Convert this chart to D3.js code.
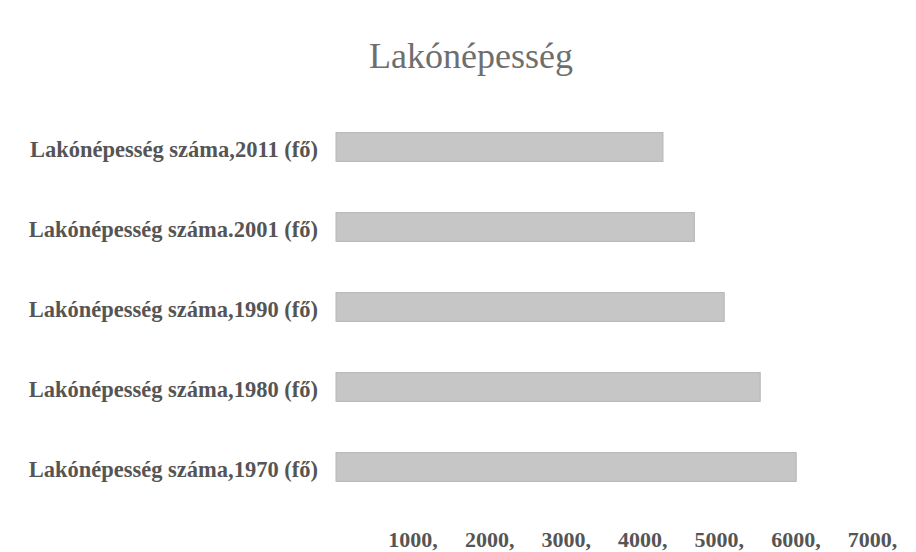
<!DOCTYPE html>
<html>
<head>
<meta charset="utf-8">
<script src="https://cdn.jsdelivr.net/npm/d3@7"></script>
<style>
  body { margin: 0; background: #fff; }
  .axis path, .axis line { display: none; }
</style>
</head>
<body>
<div id="chart"></div>
<script>
// chart data
var categories = [
    "Lakónépesség száma,2011 (fő)",
    "Lakónépesség száma.2001 (fő)",
    "Lakónépesség száma,1990 (fő)",
    "Lakónépesség száma,1980 (fő)",
    "Lakónépesség száma,1970 (fő)"
];
var values = [4270, 4680, 5070, 5540, 6010];
var tickValues = [1000, 2000, 3000, 4000, 5000, 6000, 7000];
var title = "Lakónépesség";

function init()
{
    var w = 916;
    var h = 552;

    var svg = d3.select("#chart")
        .append("svg")
        .attr("width", w)
        .attr("height", h)
        .style("font-family", "'Liberation Serif', 'DejaVu Serif', serif");

    var xScale = d3.scaleLinear()
        .domain([0, 7000])
        .range([336, 872]);

    var yScale = d3.scaleBand()
        .domain(categories)
        .range([107, 507])
        .paddingInner(0.64)
        .paddingOuter(0.32);

    // title
    svg.append("text")
        .attr("x", 471)
        .attr("y", 68)
        .attr("text-anchor", "middle")
        .attr("fill", "#6e6e6e")
        .style("font-size", "36px")
        .text(title);

    // bars
    svg.selectAll(".bar")
        .data(values)
        .enter()
        .append("rect")
        .attr("class", "bar")
        .attr("x", xScale(0))
        .attr("y", function(d, i) { return yScale(categories[i]); })
        .attr("width", function(d) { return xScale(d) - xScale(0); })
        .attr("height", yScale.bandwidth())
        .attr("fill", "#c6c6c6")
        .attr("stroke", "#b5b5b5")
        .attr("stroke-width", 1);

    // category labels
    var yAxis = d3.axisLeft(yScale).tickSize(0).tickPadding(0);
    var yg = svg.append("g")
        .attr("class", "axis")
        .attr("transform", "translate(318,0)")
        .call(yAxis);
    yg.selectAll("text")
        .attr("fill", "#555")
        .attr("dy", "0.45em")
        .style("font-size", "22.5px")
        .style("font-weight", "bold")
        .style("font-family", "'Liberation Serif', serif");

    // x axis labels
    var xAxis = d3.axisBottom(xScale)
        .tickValues(tickValues)
        .tickSize(0)
        .tickFormat(function(d) { return d + ","; });
    var xg = svg.append("g")
        .attr("class", "axis")
        .attr("transform", "translate(0,528)")
        .call(xAxis);
    xg.selectAll("text")
        .attr("fill", "#555")
        .style("font-size", "22px")
        .style("font-weight", "bold")
        .style("font-family", "'Liberation Serif', serif");
}

window.onload = init;
</script>
</body>
</html>
